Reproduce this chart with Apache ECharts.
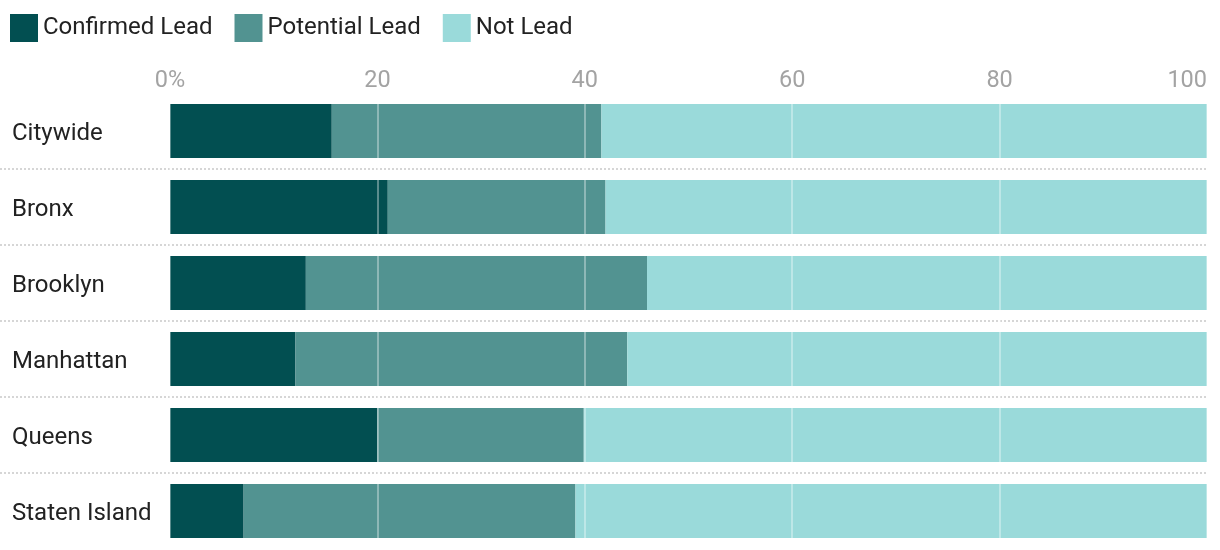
<!DOCTYPE html>
<html>
<head>
<meta charset="utf-8">
<script src="https://cdn.jsdelivr.net/npm/echarts@6/dist/echarts.min.js"></script>
<style>
html,body{margin:0;padding:0;background:#fff;}
#chart{width:1220px;height:550px;}
</style>
</head>
<body>
<div id="chart"></div>
<script>
var categories = ["Citywide", "Bronx", "Brooklyn", "Manhattan", "Queens", "Staten Island"];
var confirmedLead = [15.6, 21.0, 13.1, 12.1, 20.0, 7.1];
var potentialLead = [26.0, 21.0, 32.9, 32.0, 19.9, 32.0];
var notLead = [58.4, 58.0, 54.0, 55.9, 60.1, 60.9];
var xTicks = [0, 20, 40, 60, 80, 100];

var FONT = 'Roboto, "Noto Sans", sans-serif';
var chart = echarts.init(document.getElementById('chart'), null, {renderer: 'canvas'});

function barSeries(name, data, color) {
  return {
    name: name, type: 'bar', stack: 'total', data: data,
    xAxisIndex: 0, yAxisIndex: 0,
    barWidth: 54,
    itemStyle: {color: color},
    emphasis: {disabled: true},
    z: 2
  };
}

chart.setOption({
  animation: false,
  textStyle: {fontFamily: FONT},
  legend: {
    left: 5, top: 9,
    itemWidth: 28, itemHeight: 28, itemGap: 22,
    icon: 'rect',
    textStyle: {fontSize: 24, color: '#222', fontFamily: FONT},
    data: ['Confirmed Lead', 'Potential Lead', 'Not Lead']
  },
  grid: [
    {left: 170, right: 13, top: 93, height: 456, containLabel: false},
    {left: 0, right: 13, top: 93, height: 456, containLabel: false}
  ],
  xAxis: [
    {
      type: 'value', gridIndex: 0, position: 'top',
      min: 0, max: 100, interval: 20,
      z: 5,
      axisLine: {show: false}, axisTick: {show: false},
      splitLine: {show: true, lineStyle: {color: 'rgba(255,255,255,0.35)', width: 2}},
      axisLabel: {
        color: '#a3a3a3', fontSize: 23.5, fontFamily: FONT, margin: 0,
        alignMaxLabel: 'right',
        formatter: function (v) { return xTicks.indexOf(v) === 0 ? v + '%' : String(v); }
      }
    },
    {
      type: 'value', gridIndex: 1, min: 0, max: 1, show: false
    }
  ],
  yAxis: [
    {
      type: 'category', gridIndex: 0, data: categories, inverse: true,
      axisLine: {show: false}, axisTick: {show: false},
      splitLine: {show: false},
      axisLabel: {
        align: 'left', margin: 158, verticalAlign: 'top', lineHeight: 6,
        color: '#222', fontSize: 24, fontFamily: FONT
      }
    },
    {
      type: 'category', gridIndex: 1, data: categories, inverse: true,
      z: 0,
      axisLine: {show: false}, axisTick: {show: false}, axisLabel: {show: false},
      splitLine: {
        show: true,
        showMinLine: false, showMaxLine: false,
        lineStyle: {color: '#d6d6d6', width: 2, type: [2, 2]}
      }
    }
  ],
  series: [
    barSeries('Confirmed Lead', confirmedLead, '#024f51'),
    barSeries('Potential Lead', potentialLead, '#529391'),
    barSeries('Not Lead', notLead, '#9adada')
  ]
});
</script>
</body>
</html>
